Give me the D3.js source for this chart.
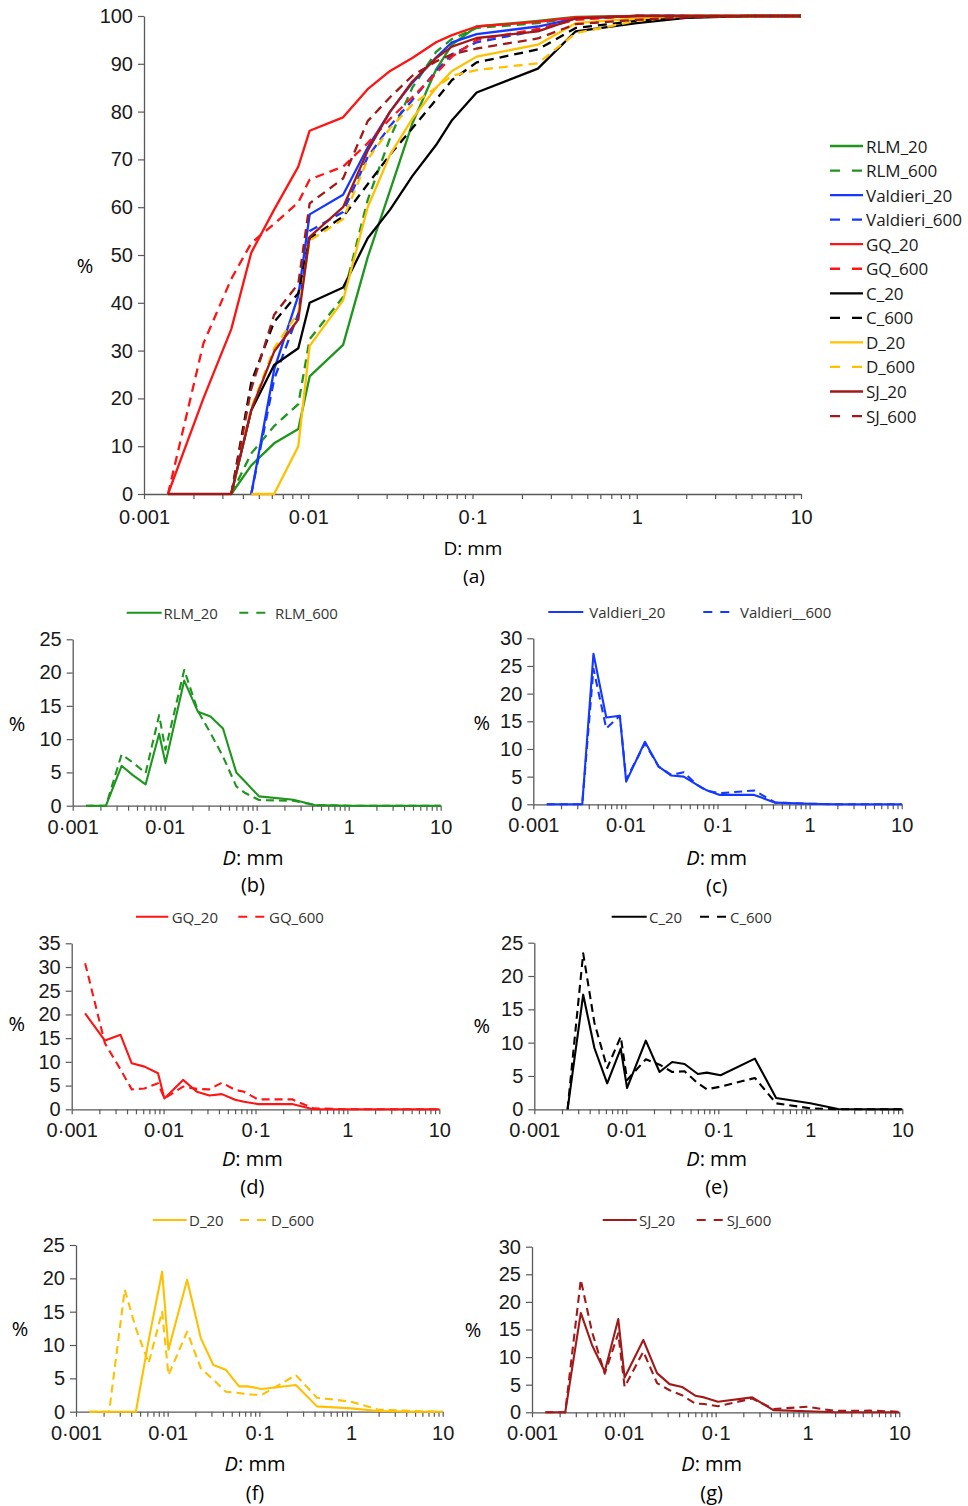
<!DOCTYPE html>
<html>
<head>
<meta charset="utf-8">
<script src="https://cdn.jsdelivr.net/npm/d3@7"></script>
<style>
  body { margin: 0; background: #fff; }
  svg { font-family: "Open Sans", sans-serif; }
</style>
</head>
<body>
<script>
// particle sizes (mm) shared by every curve
const sizes = [0.0014, 0.0023, 0.0034, 0.0045, 0.0062, 0.0087, 0.0102, 0.0163, 0.023, 0.0315,
               0.043, 0.06, 0.075, 0.106, 0.25, 0.425, 1, 2, 4.75, 10];

const seriesNames = ["RLM_20", "RLM_600", "Valdieri_20", "Valdieri_600", "GQ_20", "GQ_600",
                     "C_20", "C_600", "D_20", "D_600", "SJ_20", "SJ_600"];

const xTickValues = [0.001, 0.01, 0.1, 1, 10];
const xTickLabels = ["0·001", "0·01", "0·1", "1", "10"];
const mainYTicks = [0, 10, 20, 30, 40, 50, 60, 70, 80, 90, 100];

// (a) cumulative % passing
const cumRLM20   = [null, null, 0, 6, 10.6, 13.6, 24.6, 31.2, 49.5, 63.5, 77.5, 88.8, 94, 97.8, 99, 99.8, 100, 100, 100, 100];
const cumRLM600  = [null, null, 0, 8.5, 14.2, 18.8, 32.4, 41.2, 61.5, 74.5, 85, 92.5, 95.2, 97.5, 98.5, 99.6, 100, 100, 100, 100];
const cumVal20   = [null, null, null, 0, 26, 41.5, 58.5, 62.6, 72.5, 80, 86, 91.3, 94.5, 96.2, 97.8, 99.5, 100, 100, 100, 100];
const cumVal600  = [null, null, null, 0, 24, 37.8, 55, 59, 70.5, 77, 82.4, 88.5, 92, 94.5, 97, 99.4, 100, 100, 100, 100];
const cumGQ20    = [0, 20, 34.5, 50.5, 59.5, 68.5, 76, 78.8, 84.7, 88.5, 91.2, 94.5, 96, 97.8, 98.8, 99.7, 100, 100, 100, 100];
const cumGQ600   = [0, 31.5, 45, 52.5, 56.5, 61, 65.8, 68.5, 73.4, 78.5, 83, 88, 91.5, 95, 97.3, 99.2, 100, 100, 100, 100];
const cumC20     = [null, null, 0, 17.5, 27, 30.5, 40, 43.2, 53.5, 59.5, 66.5, 73, 78.2, 84, 89, 96.8, 98.5, 99.6, 100, 100];
const cumC600    = [null, null, 0, 23.4, 36, 42, 53.5, 58, 64.8, 71, 76.5, 82.5, 86.6, 90.3, 93, 97.5, 99, 99.8, 100, 100];
const cumD20     = [null, null, null, 0, 0, 10, 31, 40.5, 60, 71, 78.5, 85, 88.5, 91.5, 94, 98.5, 99.5, 100, 100, 100];
const cumD600    = [null, null, 0, 18, 30.5, 38, 53, 57.5, 70, 76.5, 81.5, 85, 87.5, 88.7, 90.1, 96.4, 99, 100, 100, 100];
const cumSJ20    = [0, 0, 0, 17.6, 29.8, 36.5, 53.8, 60, 71.8, 80, 86.3, 91.2, 93.6, 95.4, 96.8, 99.5, 100, 100, 100, 100];
const cumSJ600   = [null, null, 0, 22, 37.5, 44, 60.8, 66, 78, 83, 87.5, 90.5, 92, 93.2, 95.3, 98.3, 99.2, 99.7, 100, 100];

// (b)-(g) % retained per size class
const freqRLM20  = [0, 0, 6.0, 4.6, 3.2, 10.8, 6.4, 18.8, 14.1, 13.4, 11.6, 5.0, 3.6, 1.4, 0.9, 0.1, 0, 0, 0, 0];
const freqRLM600 = [0, 0, 7.7, 6.5, 4.9, 13.6, 8.4, 20.4, 14.2, 10.9, 7.4, 2.9, 1.9, 0.85, 0.75, 0.1, 0, 0, 0, 0];
const freqVal20  = [0, 0, 0, 27.2, 15.7, 16.0, 4.1, 11.3, 6.8, 5.2, 5.0, 3.5, 2.6, 1.7, 1.7, 0.3, 0.1, 0, 0, 0];
const freqVal600 = [0, 0, 0, 24.5, 13.7, 16.0, 4.5, 11.0, 6.8, 5.3, 5.8, 3.5, 2.5, 2.0, 2.5, 0.3, 0.1, 0, 0, 0];
const freqGQ20   = [20.2, 14.5, 15.7, 9.7, 9.0, 7.6, 2.3, 6.2, 3.7, 2.9, 3.2, 2.0, 1.6, 1.1, 1.1, 0, 0, 0, 0, 0];
const freqGQ600  = [30.8, 13.9, 8.4, 4.2, 4.4, 5.5, 2.3, 4.8, 4.3, 4.2, 5.6, 4.1, 3.7, 2.1, 2.1, 0.2, 0, 0, 0, 0];
const freqC20    = [null, 0, 17.2, 9.2, 3.9, 9.1, 3.2, 10.3, 5.6, 7.1, 6.8, 5.3, 5.5, 5.1, 7.6, 1.7, 0.9, 0.05, 0, 0];
const freqC600   = [null, 0, 23.4, 13, 6.2, 10.9, 4.4, 7.5, 6.7, 5.6, 5.7, 3.9, 3.0, 3.4, 4.7, 0.9, 0.15, 0, 0, 0];
const freqD20    = [0, 0, 0, 0, 10.7, 21, 9.3, 19.8, 11, 7, 6.3, 3.8, 3.8, 3.4, 4, 0.8, 0.5, 0.1, 0, 0];
const freqD600   = [0, 0, 18.3, 12.5, 7.3, 15, 5.5, 12, 6.5, 4.8, 3, 2.8, 2.6, 2.5, 5.5, 2.1, 1.5, 0.3, 0.1, 0];
const freqSJ20   = [0, 0, 18, 12.2, 7.4, 16.9, 6.3, 13.1, 7.1, 5.1, 4.6, 3.0, 2.7, 1.9, 2.7, 0.4, 0.2, 0, 0, 0];
const freqSJ600  = [0, 0, 24, 14.6, 7, 14.3, 4.6, 11, 5.3, 4, 3.1, 1.6, 1.5, 1.1, 2.5, 0.6, 1.0, 0.25, 0.3, 0.1];

const cumAll  = [cumRLM20, cumRLM600, cumVal20, cumVal600, cumGQ20, cumGQ600, cumC20, cumC600, cumD20, cumD600, cumSJ20, cumSJ600];
const freqAll = [freqRLM20, freqRLM600, freqVal20, freqVal600, freqGQ20, freqGQ600, freqC20, freqC600, freqD20, freqD600, freqSJ20, freqSJ600];

const colors = ["#1e961e", "#1e961e", "#1438ff", "#1438ff", "#ff1414", "#ff1414",
                "#000000", "#000000", "#ffc000", "#ffc000", "#a31919", "#a31919"];
const axisColor = "#595959";

const svg = d3.select("body").append("svg")
  .attr("width", 968)
  .attr("height", 1506);

// all minor + major tick positions on a log axis 0.001..10
const logTicks = [];
for (let k = -3; k < 1; k++) {
  for (let m = 1; m < 10; m++) logTicks.push(+(m * Math.pow(10, k)).toPrecision(3));
}
logTicks.push(10);

function tickLabel(d) {
  const i = xTickValues.findIndex(v => Math.abs(v - d) < d * 1e-6);
  return i >= 0 ? xTickLabels[i] : "";
}

function styleAxis(g) {
  g.select(".domain").attr("stroke", axisColor).attr("stroke-width", 1.3);
  g.selectAll(".tick line").attr("stroke", axisColor).attr("stroke-width", 1.2);
  g.selectAll(".tick text").attr("fill", "#1a1a1a").attr("font-size", 20);
}

function drawAxes(g, x, y, yTicks, xPad) {
  g.append("g")
    .attr("transform", `translate(0,${y.range()[0]})`)
    .call(d3.axisBottom(x).tickValues(logTicks).tickFormat(tickLabel).tickSize(5).tickSizeOuter(0).tickPadding(xPad))
    .call(styleAxis);
  g.append("g")
    .attr("transform", `translate(${x.range()[0]},0)`)
    .call(d3.axisLeft(y).tickValues(yTicks).tickSize(6).tickSizeOuter(0).tickPadding(5))
    .call(styleAxis);
}

function drawSeries(g, x, y, values, i, width, dash) {
  const line = d3.line()
    .defined(d => d[1] != null)
    .x(d => x(d[0]))
    .y(d => y(d[1]));
  g.append("path")
    .datum(sizes.map((s, j) => [s, values[j]]))
    .attr("d", line)
    .attr("fill", "none")
    .attr("stroke", colors[i])
    .attr("stroke-width", width)
    .attr("stroke-linejoin", "round")
    .attr("stroke-dasharray", i % 2 ? dash : null);
}

// ---------- (a) cumulative curves ----------
const xMain = d3.scaleLog().domain([0.001, 10]).range([144, 801]);
const yMain = d3.scaleLinear().domain([0, 100]).range([494, 16]);
const main = svg.append("g");
drawAxes(main, xMain, yMain, mainYTicks, 11);
cumAll.forEach((vals, i) => drawSeries(main, xMain, yMain, vals, i, 2.3, "9,6"));

main.append("text").attr("x", 85).attr("y", 265).attr("text-anchor", "middle")
  .attr("dominant-baseline", "central").attr("font-size", 20).text("%");
main.append("text").attr("x", 473).attr("y", 548).attr("text-anchor", "middle")
  .attr("dominant-baseline", "central").attr("font-size", 19).text("D: mm");
main.append("text").attr("x", 474).attr("y", 576).attr("text-anchor", "middle")
  .attr("dominant-baseline", "central").attr("font-size", 19).text("(a)");

const legend = main.append("g");
seriesNames.forEach((name, i) => {
  const ly = 146 + 24.55 * i;
  legend.append("line")
    .attr("x1", 830).attr("x2", 863).attr("y1", ly).attr("y2", ly)
    .attr("stroke", colors[i]).attr("stroke-width", 2.3)
    .attr("stroke-dasharray", i % 2 ? "10,12" : null);
  legend.append("text").attr("x", 866).attr("y", ly)
    .attr("dominant-baseline", "central").attr("font-size", 17)
    .attr("fill", "#1a1a1a").text(name);
});

// ---------- (b)-(g) frequency panels ----------
const panels = [
  { tag: "(b)", pair: 0, x0: 72.7, x1: 440.7, yb: 805.7, yt: 639.3, ymax: 25, labels: ["RLM_20", "RLM_600"],
    ly: 612.7, l1: [126.7, 161.7], t1: 163.5, l2: [239.3, 266.7], t2: 275, pct: [17, 723], title: [253, 857], cap: [253, 884] },
  { tag: "(c)", pair: 2, x0: 533.3, x1: 901.7, yb: 804.3, yt: 638.3, ymax: 30, labels: ["Valdieri_20", "Valdieri__600"],
    ly: 612, l1: [548.3, 583.3], t1: 589.3, l2: [703.3, 731.7], t2: 740, pct: [481.7, 722], title: [716.7, 857], cap: [716.7, 885] },
  { tag: "(d)", pair: 4, x0: 71.7, x1: 439.3, yb: 1109.3, yt: 943.3, ymax: 35, labels: ["GQ_20", "GQ_600"],
    ly: 916.7, l1: [136, 168.3], t1: 171.7, l2: [238.3, 266.7], t2: 269, pct: [16.7, 1023], title: [252.3, 1158], cap: [252.3, 1186] },
  { tag: "(e)", pair: 6, x0: 534.3, x1: 902.3, yb: 1109.3, yt: 942.7, ymax: 25, labels: ["C_20", "C_600"],
    ly: 916.7, l1: [611.7, 646.7], t1: 649, l2: [700, 728.3], t2: 730, pct: [481.7, 1025], title: [716.7, 1158], cap: [716.7, 1186] },
  { tag: "(f)", pair: 8, x0: 76, x1: 442.7, yb: 1411.7, yt: 1245, ymax: 25, labels: ["D_20", "D_600"],
    ly: 1220, l1: [152.7, 186.7], t1: 189, l2: [240, 269.3], t2: 271, pct: [20, 1328], title: [255, 1463], cap: [255, 1492] },
  { tag: "(g)", pair: 10, x0: 532, x1: 899.3, yb: 1412.3, yt: 1246.7, ymax: 30, labels: ["SJ_20", "SJ_600"],
    ly: 1220, l1: [602.7, 636.7], t1: 639, l2: [696.7, 725], t2: 726.7, pct: [473, 1329], title: [711.7, 1463], cap: [711.7, 1492] }
];

panels.forEach(p => {
  const g = svg.append("g");
  const x = d3.scaleLog().domain([0.001, 10]).range([p.x0, p.x1]);
  const y = d3.scaleLinear().domain([0, p.ymax]).range([p.yb, p.yt]);
  drawAxes(g, x, y, d3.range(0, p.ymax + 1, 5), 9);
  [p.pair, p.pair + 1].forEach(i => drawSeries(g, x, y, freqAll[i], i, 2.1, "8,5"));

  [[p.l1, p.t1, 0], [p.l2, p.t2, 1]].forEach(([l, t, k]) => {
    const i = p.pair + k;
    g.append("line").attr("x1", l[0]).attr("x2", l[1]).attr("y1", p.ly).attr("y2", p.ly)
      .attr("stroke", colors[i]).attr("stroke-width", 2.1)
      .attr("stroke-dasharray", k ? "9,8" : null);
    g.append("text").attr("x", t).attr("y", p.ly).attr("dominant-baseline", "central")
      .attr("font-size", 15).attr("fill", "#333").text(p.labels[k]);
  });

  g.append("text").attr("x", p.pct[0]).attr("y", p.pct[1]).attr("text-anchor", "middle")
    .attr("dominant-baseline", "central").attr("font-size", 20).text("%");
  const t = g.append("text").attr("x", p.title[0]).attr("y", p.title[1]).attr("text-anchor", "middle")
    .attr("dominant-baseline", "central").attr("font-size", 20);
  t.append("tspan").attr("font-style", "italic").text("D");
  t.append("tspan").text(": mm");
  g.append("text").attr("x", p.cap[0]).attr("y", p.cap[1]).attr("text-anchor", "middle")
    .attr("dominant-baseline", "central").attr("font-size", 20).text(p.tag);
});
</script>
</body>
</html>
